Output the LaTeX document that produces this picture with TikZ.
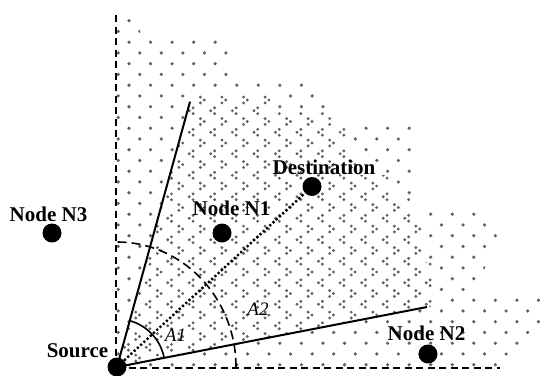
\documentclass[tikz,border=0pt]{standalone}
\usepackage{fontspec}
\setmainfont{Liberation Serif}
\definecolor{dotcol}{gray}{0.38}
\tikzset{
  pt/.style={circle,fill=black,draw=none,minimum size=19pt,inner sep=0pt},
  lbl/.style={anchor=base,inner sep=0pt,font=\fontsize{21}{24}\selectfont\bfseries},
  alb/.style={anchor=base,inner sep=0pt,font=\fontsize{19}{22}\selectfont\itshape},
  solidln/.style={line width=2pt},
  axisdash/.style={line width=2pt,dash pattern=on 7pt off 4.5pt},
  arcdash/.style={line width=1.6pt,dash pattern=on 9pt off 5pt},
  dotln/.style={line width=2.4pt,dash pattern=on 2.2pt off 2.2pt},
}
\def\densepath{(117,367) -- (190,101.7) -- (190,94) -- (272,94) -- (272,112) -- (332,112) -- (332,125)
  -- (347,125) -- (347,148) -- (358,148) -- (358,175) -- (392,175) -- (392,198)
  -- (412,198) -- (412,212) -- (422,212) -- (422,262) -- (433,262) -- (433,306.5)
  -- (427,307) -- cycle}
\begin{document}
\begin{tikzpicture}[x=1pt,y=-1pt]
\useasboundingbox (0,0) rectangle (540,375);
% sparse dot pattern
\begin{scope}
\clip
  (116,15) -- (140,15) -- (140,38) -- (232,38) -- (232,80) -- (314,80) -- (314,101)
  -- (331,101) -- (331,122) -- (413,122) -- (413,207) -- (490,207) -- (502,235)
  -- (472,293) -- (540,294) -- (540,330) -- (503,370) -- (116,370) -- cycle;
\foreach \j in {0,...,32}{
  \foreach \i in {0,...,20}{
    \fill[dotcol] ({129+21.55*\i-10.775*mod(\j,2)},{20.7+10.75*\j}) circle[radius=1.8pt];
  }
}
\end{scope}
% dense chevron pattern (inside the sector)
\fill[white] \densepath;
\begin{scope}
\clip \densepath;
\foreach \k in {-1,1,...,25}{
  \foreach \i in {-5,...,11}{
    \pgfmathsetmacro{\cx}{213+21.55*\i}
    \pgfmathsetmacro{\cy}{100+10.75*\k}
    \fill[dotcol] (\cx-2.2,\cy) circle[radius=1.6pt]
      (\cx+1.6,\cy-2.9) circle[radius=1.6pt] (\cx+1.6,\cy+2.9) circle[radius=1.6pt];
  }
}
\foreach \k in {0,2,...,26}{
  \foreach \i in {-5,...,11}{
    \pgfmathsetmacro{\cx}{202+21.55*\i}
    \pgfmathsetmacro{\cy}{100+10.75*\k}
    \fill[dotcol] (\cx+2.2,\cy) circle[radius=1.6pt]
      (\cx-1.6,\cy-2.9) circle[radius=1.6pt] (\cx-1.6,\cy+2.9) circle[radius=1.6pt];
  }
}
\end{scope}
% nodes
\node[pt] (S) at (117,367) {};
\node[pt] (D) at (312,186.5) {};
\node[pt] (N1) at (222,233) {};
\node[pt] (N2) at (428,354) {};
\node[pt] (N3) at (52,233) {};
\coordinate (U) at (190,101.7);
\coordinate (L) at (427,307);
\coordinate (VT) at (116,15);
\coordinate (HR) at (500,368);
% axes
\draw[axisdash] (VT) -- (VT |- S.center);
\draw[axisdash] (S.center |- HR) -- (HR);
% sector boundaries
\draw[solidln] (S.center) -- (U);
\draw[solidln] (S.center) -- (L);
% dotted line to destination
\draw[dotln] (S) -- (D);
% dashed range arc
\draw[arcdash] plot[domain=0:90,samples=60] ({117+119*cos(\x)},{367-125*sin(\x)});
% angle arc A1
\draw[line width=1.6pt] plot[domain=11:74.8,samples=40] ({117+48*cos(\x)},{367-48*sin(\x)});
% labels
\node[lbl] (tS) at (77.5,357) {Source};
\node[lbl] (tD) at (324,174.5) {Destination};
\node[lbl] (tN1) at (231.5,215) {Node N1};
\node[lbl] (tN2) at (426.5,340) {Node N2};
\node[lbl] (tN3) at (48.5,221) {Node N3};
\node[alb] (tA1) at (175.5,341) {A1};
\node[alb] (tA2) at (258,315) {A2};
\end{tikzpicture}
\end{document}
